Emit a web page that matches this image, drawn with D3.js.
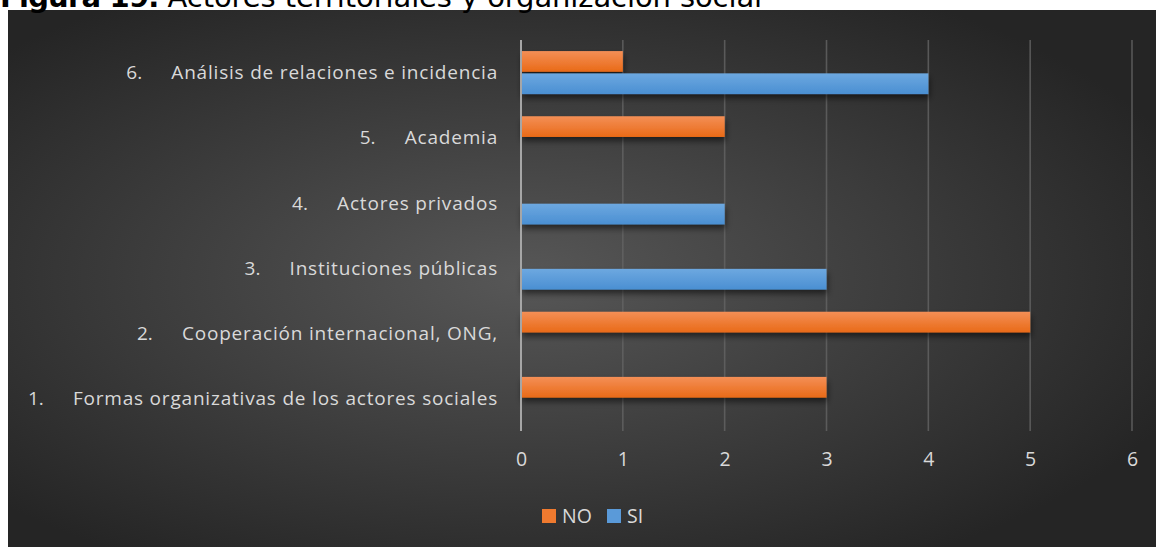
<!DOCTYPE html>
<html>
<head>
<meta charset="utf-8">
<script src="https://cdn.jsdelivr.net/npm/d3@7"></script>
<style>
  html, body { margin: 0; padding: 0; background: #ffffff; }
  svg { display: block; }
</style>
</head>
<body>
<svg id="chart" width="1156" height="547"></svg>
<script>
// Categories listed bottom-to-top, as the bar chart stacks them
const categoryNumbers = ["1.", "2.", "3.", "4.", "5.", "6."];
const categoryNames = [
  "Formas organizativas de los actores sociales",
  "Cooperación internacional, ONG,",
  "Instituciones públicas",
  "Actores privados",
  "Academia",
  "Análisis de relaciones e incidencia"
];
const seriesNames = ["NO", "SI"];
const valuesNO = [3, 5, 0, 0, 2, 1];
const valuesSI = [0, 0, 3, 2, 0, 4];
const tickValues = [0, 1, 2, 3, 4, 5, 6];

const W = 1156, H = 547;
const svg = d3.select("#chart");
const defs = svg.append("defs");

// Background: dark radial gradient panel
const bg = defs.append("radialGradient").attr("id", "bgGrad")
  .attr("cx", "0.45").attr("cy", "0.5").attr("r", "0.62").attr("fx", "0.45").attr("fy", "0.5");
bg.append("stop").attr("offset", "0%").attr("stop-color", "#575757");
bg.append("stop").attr("offset", "100%").attr("stop-color", "#252525");

// Bar fills: vertical gradients
function barGradient(id, top, bottom) {
  const g = defs.append("linearGradient").attr("id", id).attr("x1", 0).attr("y1", 0).attr("x2", 0).attr("y2", 1);
  g.append("stop").attr("offset", "0%").attr("stop-color", top);
  g.append("stop").attr("offset", "100%").attr("stop-color", bottom);
}
barGradient("gradNO", "#f48f56", "#e96a17");
barGradient("gradSI", "#6da8e0", "#4a8fd2");

const shadow = defs.append("filter").attr("id", "barShadow")
  .attr("x", "-5%").attr("y", "-30%").attr("width", "115%").attr("height", "190%");
shadow.append("feDropShadow").attr("dx", 1).attr("dy", 4).attr("stdDeviation", 3)
  .attr("flood-color", "#000").attr("flood-opacity", 0.55);

svg.append("rect").attr("x", 8).attr("y", 10).attr("width", W - 8).attr("height", H - 10)
  .attr("fill", "url(#bgGrad)");

// Title (its upper part runs past the top edge)
const title = svg.append("text").attr("x", 0).attr("y", 7)
  .attr("font-family", "DejaVu Sans, Verdana, sans-serif").attr("font-size", 29).attr("fill", "#000");
title.append("tspan").attr("font-weight", "bold").attr("letter-spacing", -0.8).text("Figura 19.");
title.append("tspan").attr("letter-spacing", -0.1).text(" Actores territoriales y organización social");

// Plot area
const plot = { left: 521, right: 1132, top: 40, bottom: 431 };

const x = d3.scaleLinear().domain([0, 6]).range([plot.left, plot.right]);
const y = d3.scaleBand().domain(categoryNames).range([plot.bottom, plot.top]).paddingInner(0.34).paddingOuter(0.17);
// Within a category: NO on top, SI below
const ySub = d3.scaleBand().domain(seriesNames).range([0, y.bandwidth()]).paddingInner(0.07);

// Vertical gridlines
svg.append("g").selectAll("line").data(tickValues.filter(d => d > 0)).join("line")
  .attr("x1", d => x(d)).attr("x2", d => x(d))
  .attr("y1", plot.top).attr("y2", plot.bottom)
  .attr("stroke", "#646464").attr("stroke-width", 1.6).attr("stroke-opacity", 0.8);

// Bars
const rows = categoryNames.map((name, i) => ({ name, NO: valuesNO[i], SI: valuesSI[i] }));
const barsG = svg.append("g");
rows.forEach(r => {
  seriesNames.forEach(s => {
    if (r[s] <= 0) return;
    barsG.append("rect")
      .attr("x", x(0))
      .attr("y", y(r.name) + ySub(s))
      .attr("width", x(r[s]) - x(0))
      .attr("height", ySub.bandwidth())
      .attr("fill", s === "NO" ? "url(#gradNO)" : "url(#gradSI)")
      .attr("filter", "url(#barShadow)");
  });
});

// Category axis line at zero
svg.append("line").attr("x1", x(0)).attr("x2", x(0)).attr("y1", plot.top).attr("y2", plot.bottom)
  .attr("stroke", "#a6a6a6").attr("stroke-width", 2);

const labelFont = "'Open Sans', sans-serif";
const labelSize = 19;
const labelSpacing = 0.8;

// Value axis (tick labels only)
const xAxis = d3.axisBottom(x).tickValues(tickValues).tickFormat(d3.format("d")).tickSize(0).tickPadding(0);
const xg = svg.append("g").attr("transform", `translate(0,${plot.bottom + 23})`).call(xAxis);
xg.select(".domain").remove();
xg.selectAll("text").attr("font-family", labelFont).attr("font-size", 19.5).attr("fill", "#d9d9d9")
  .attr("dy", "0.6em");

// Category labels: right-aligned name, with its number placed a tab-width before it
const labelsG = svg.append("g");
categoryNames.forEach((name, i) => {
  const cy = y(name) + y.bandwidth() / 2;
  const t = labelsG.append("text").attr("x", 498).attr("y", cy).attr("dy", "0.35em")
    .attr("text-anchor", "end").attr("font-family", labelFont).attr("font-size", labelSize)
    .attr("letter-spacing", labelSpacing).attr("fill", "#d9d9d9").text(name);
  const w = t.node().getBBox().width;
  labelsG.append("text").attr("x", 498 - w - 45).attr("y", cy).attr("dy", "0.35em")
    .attr("font-family", labelFont).attr("font-size", labelSize)
    .attr("fill", "#d9d9d9").text(categoryNumbers[i]);
});

// Legend
const legendColors = { NO: "#ef7a2f", SI: "#5a9ad9" };
const legendPos = { NO: 542, SI: 607 };
const lg = svg.append("g");
seriesNames.forEach(s => {
  lg.append("rect").attr("x", legendPos[s]).attr("y", 509).attr("width", 14).attr("height", 14)
    .attr("fill", legendColors[s]);
  lg.append("text").attr("x", legendPos[s] + 20).attr("y", 516).attr("dy", "0.35em")
    .attr("font-family", labelFont).attr("font-size", 19.5).attr("fill", "#d9d9d9").text(s);
});
</script>
</body>
</html>
